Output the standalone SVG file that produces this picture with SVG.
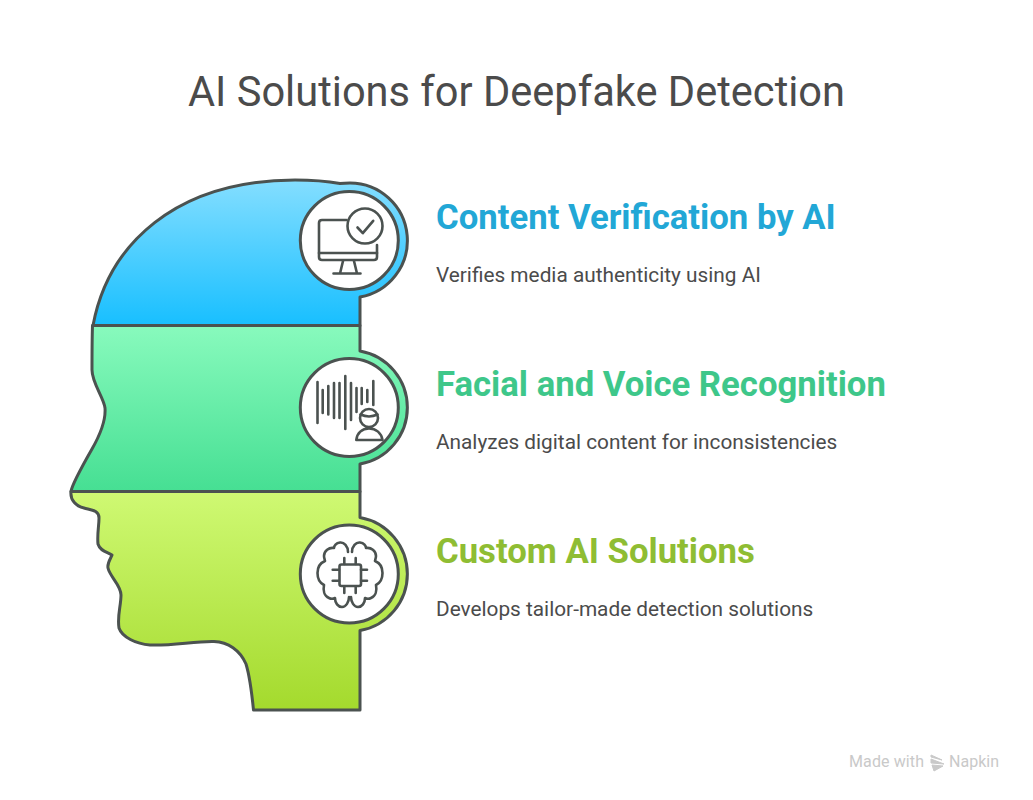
<svg xmlns="http://www.w3.org/2000/svg" width="1033" height="800" viewBox="0 0 1033 800">
<style>
text{font-family:Roboto,"Liberation Sans",sans-serif}
.title{font-size:41.6px;fill:#4b4b4b}
.head{font-size:34.7px;font-weight:700}
.sub{font-size:20.8px;fill:#4b4b4b}
.band{stroke:#4b5250;stroke-width:3;stroke-linejoin:round}
.disc{fill:#fff;stroke:#4b5250;stroke-width:3}
.ico{fill:none;stroke:#4b5250;stroke-width:2.6;stroke-linecap:round;stroke-linejoin:round}
.foot{font-size:16px;fill:#c9c9c9}
</style>
<defs>
<linearGradient id="gb" x1="0" y1="0" x2="0" y2="1"><stop offset="0" stop-color="#84deff"/><stop offset="1" stop-color="#18bfff"/></linearGradient>
<linearGradient id="gg" x1="0" y1="0" x2="0" y2="1"><stop offset="0" stop-color="#88fabd"/><stop offset="1" stop-color="#46df93"/></linearGradient>
<linearGradient id="gy" x1="0" y1="0" x2="0" y2="1"><stop offset="0" stop-color="#cff973"/><stop offset="1" stop-color="#a4da2d"/></linearGradient>
<path id="brainL" d="M348,552 C348,546 344,542 340,542.5 C336,543 334,546 334,548 C329,547 324,551 324,556 C324,558 325,560 325,561 C320,563 317.5,568 317.5,573 C317.5,579 320,583 324,585 C323,590 324,596 329,598 C331,599 333,599 335,598 C335,603 338,607 342,607 C346,607 349,602 349,597"/>
</defs>
<text class="title" x="516.5" y="106" text-anchor="middle">AI Solutions for Deepfake Detection</text>

<g id="node-content-verification">
<path class="band" fill="url(#gb)" d="M93,325.5 C108,245 175,180 295,180 C312,180 326,181 340,183.5 C344,183 347,183 350,183 A57.5,57.5 0 0 1 360,297.1 V325.5 Z"/>
<circle class="disc" cx="349.3" cy="240.5" r="49"/>
<g class="ico">
<path d="M346.5,220 H322 Q319,220 319,223 V257 Q319,260 322,260 H374 Q377,260 377,257 V245"/>
<path d="M319,253 H377"/>
<path d="M343,261 L340,273.5 M354,261 L357,273.5 M333.5,273.5 H360.5"/>
<circle cx="365" cy="226" r="17.5"/>
<path d="M357.5,227.5 L362.8,233.2 L373.2,220.8"/>
</g>
<text class="head" x="436" y="229" fill="#22a7d6">Content Verification by AI</text>
<text class="sub" x="436" y="282">Verifies media authenticity using AI</text>
</g>

<g id="node-facial-voice">
<path class="band" fill="url(#gg)" d="M92.5,325.5 H360 V350.9 A57.5,57.5 0 0 1 360,464.1 V491.5 H71 C72,484 84,463 92,449 C100,435 106,421 105,408 C104,398 92,383 92,370 C92,355 92,340 92.5,325.5 Z"/>
<circle class="disc" cx="349.3" cy="407.5" r="49"/>
<g class="ico">
<path d="M317.5,382 V423 M322.7,390 V413 M328.3,386 V414.5 M334,383 V418 M339.5,383 V418 M345.3,376 V429 M351,383 V420 M356.5,388 V412 M361.7,388 V404 M367.3,390 V402 M373.3,381 V405"/>
<circle cx="369" cy="418" r="9"/>
<path d="M360.5,414.5 C366,417 372,417 377.5,414.5"/>
<path d="M356.3,440 C357,433 362,428.5 369,428.5 C376,428.5 381.5,433 382.5,440 Z"/>
</g>
<text class="head" x="436" y="396" fill="#3ec78a">Facial and Voice Recognition</text>
<text class="sub" x="436" y="449">Analyzes digital content for inconsistencies</text>
</g>

<g id="node-custom-ai">
<path class="band" fill="url(#gy)" d="M71,491.5 H360 V517.4 A57.5,57.5 0 0 1 360,630.6 V710 H253.5 C252,695 250,677 246,664 C240,650 228,642 214,641.5 C195,641 172,646 150,645 C136,644 122,637 119,628 C117,616 121,606 121,595 C121,585 110,577 108,568 C107,563 111,558 112,555 C107,552 100,551 98,544 C97,534 99,526 99,518 C99,510 91,510 84,508 C76,506 70,500 71,491.5 Z"/>
<circle class="disc" cx="349.3" cy="574" r="49"/>
<g class="ico">
<use href="#brainL"/>
<use href="#brainL" transform="translate(700,0) scale(-1,1)"/>
<rect x="339.5" y="564.5" width="21.5" height="21.5" rx="2"/>
<path d="M344.3,558 V564 M355.7,558 V564 M344.3,587 V593 M355.7,587 V593 M332.7,569.7 H339 M332.7,580.7 H339 M361,569.7 H367 M361,580.7 H367"/>
</g>
<text class="head" x="436" y="563" fill="#8fbd33">Custom AI Solutions</text>
<text class="sub" x="436" y="616">Develops tailor-made detection solutions</text>
</g>

<g id="watermark">
<text class="foot" x="849" y="767" textLength="75">Made with</text>
<path d="M931,755 L942,760 L931,757 Z M931,759 L944,764 L931,763 Z M932,765 L943,766 L934,771 Z" fill="#c9c9c9" stroke="#c9c9c9" stroke-width="1"/>
<text class="foot" x="949" y="767" textLength="50">Napkin</text>
</g>
</svg>
